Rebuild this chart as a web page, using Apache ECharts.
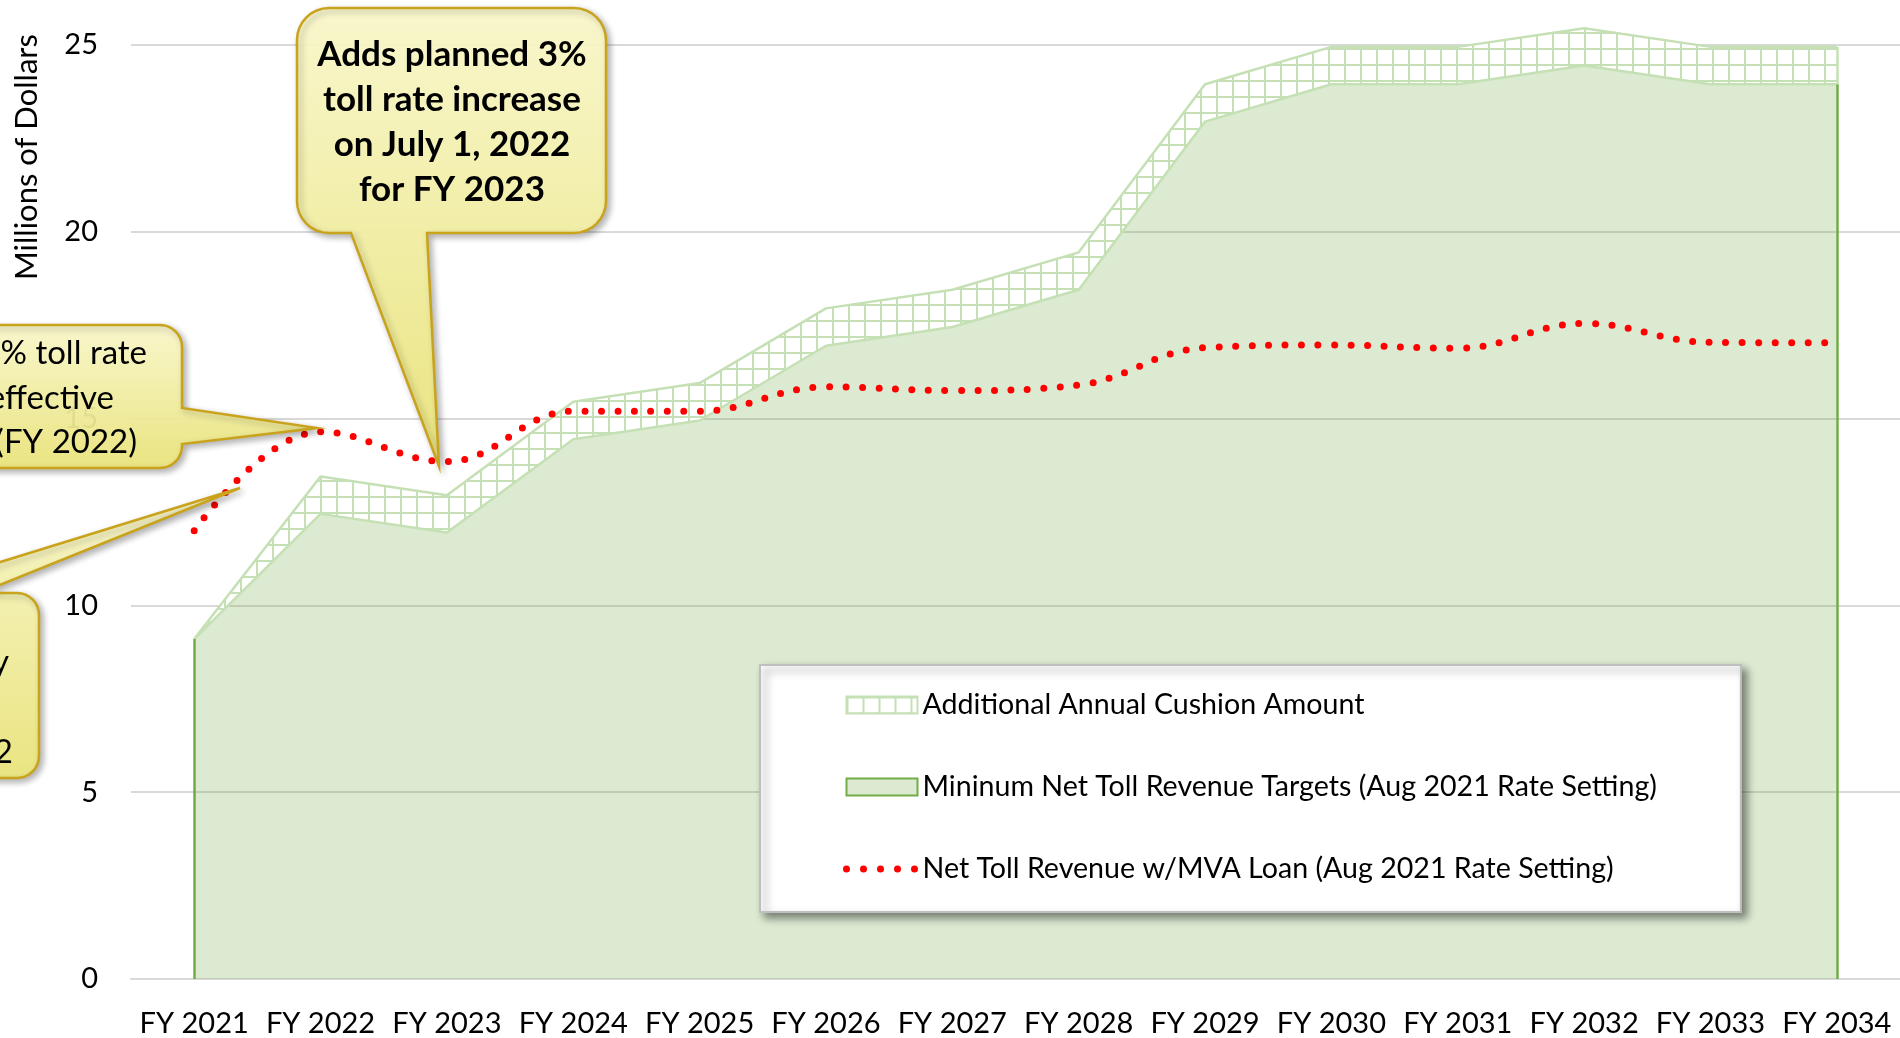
<!DOCTYPE html>
<html>
<head>
<meta charset="utf-8">
<script src="https://cdn.jsdelivr.net/npm/echarts@6/dist/echarts.min.js"></script>
<style>
  html, body { margin: 0; padding: 0; background: #fff; }
  #chart { width: 1900px; height: 1038px; }
</style>
</head>
<body>
<div id="chart"></div>
<script>
// fiscal years on the x axis
const years = ['FY 2021', 'FY 2022', 'FY 2023', 'FY 2024', 'FY 2025', 'FY 2026', 'FY 2027',
               'FY 2028', 'FY 2029', 'FY 2030', 'FY 2031', 'FY 2032', 'FY 2033', 'FY 2034'];

// millions of dollars
const minTargets = [9.1, 12.45, 11.95, 14.45, 14.95, 16.95, 17.45, 18.45, 22.95, 23.95, 23.95, 24.45, 23.95, 23.95];
const cushion    = [0, 1, 1, 1, 1, 1, 1, 1, 1, 1, 1, 1, 1, 1];
const netRevenue = [12.0, 14.65, 13.85, 15.2, 15.2, 15.85, 15.75, 15.9, 16.9, 16.97, 16.88, 17.55, 17.04, 17.03];

const yMin = 0, yMax = 25, yStep = 5;

const NAME_CUSHION = 'Additional Annual Cushion Amount';
const NAME_MIN = 'Mininum Net Toll Revenue Targets (Aug 2021 Rate Setting)';
const NAME_NET = 'Net Toll Revenue w/MVA Loan (Aug 2021 Rate Setting)';

const FONT = 'Lato';
const last = years.length - 1;

// grid hatch used for the cushion band
function gridPattern() {
  const c = document.createElement('canvas');
  c.width = 16; c.height = 16;
  const g = c.getContext('2d');
  g.fillStyle = '#ffffff';
  g.fillRect(0, 0, 16, 16);
  g.fillStyle = '#c5e0b4';
  g.fillRect(0, 0, 2, 16);
  g.fillRect(0, 0, 16, 2);
  return c;
}
const hatch = { image: gridPattern(), repeat: 'repeat' };

// rounded box with a pointer, as polygon points
function bubblePoints(x, y, w, h, r, edge, a, b, tx, ty) {
  const R = x + w, B = y + h;
  const pts = [];
  const arc = (cx, cy, from, to) => {
    for (let i = 0; i <= 8; i++) {
      const t = (from + (to - from) * i / 8) * Math.PI / 180;
      pts.push([cx + r * Math.cos(t), cy + r * Math.sin(t)]);
    }
  };
  arc(x + r, y + r, 180, 270);
  if (edge === 'top') pts.push([a, y], [tx, ty], [b, y]);
  arc(R - r, y + r, 270, 360);
  if (edge === 'right') pts.push([R, a], [tx, ty], [R, b]);
  arc(R - r, B - r, 0, 90);
  if (edge === 'bottom') pts.push([b, B], [tx, ty], [a, B]);
  arc(x + r, B - r, 90, 180);
  return pts;
}

function bubble(points) {
  return {
    type: 'polygon',
    z: 100,
    silent: true,
    shape: { points: points },
    style: {
      fill: new echarts.graphic.LinearGradient(0, 0, 0, 1, [
        { offset: 0, color: 'rgba(254,252,206,0.92)' },
        { offset: 1, color: 'rgba(238,232,124,0.92)' }
      ]),
      stroke: '#c9a31c',
      lineWidth: 2.5,
      shadowBlur: 6,
      shadowColor: 'rgba(0,0,0,0.3)',
      shadowOffsetX: 3,
      shadowOffsetY: 3
    }
  };
}

function label(text, x, y, opts) {
  return {
    type: 'text',
    z: 101,
    silent: true,
    x: x,
    y: y,
    style: Object.assign({
      text: text,
      fill: '#000',
      fontFamily: FONT,
      fontSize: 33,
      align: 'right',
      verticalAlign: 'middle'
    }, opts || {})
  };
}

const chart = echarts.init(document.getElementById('chart'));

chart.setOption({
  animation: false,
  backgroundColor: '#fff',
  grid: { left: 131, top: 45, width: 1771, bottom: 57, containLabel: false },
  xAxis: {
    type: 'category',
    data: years,
    boundaryGap: true,
    axisTick: { show: false },
    axisLine: { lineStyle: { color: '#d9d9d9', width: 2 } },
    axisLabel: { interval: 0, margin: 30, color: '#000', fontFamily: FONT, fontSize: 29 }
  },
  yAxis: {
    type: 'value',
    min: yMin,
    max: yMax,
    interval: yStep,
    axisLine: { show: false },
    axisTick: { show: false },
    splitLine: { lineStyle: { color: '#d9d9d9', width: 2 } },
    axisLabel: { margin: 33, color: '#000', fontFamily: FONT, fontSize: 29 }
  },
  legend: {
    orient: 'vertical',
    left: 760,
    top: 665,
    padding: [23, 84, 26, 83],
    itemGap: 48,
    itemWidth: 71,
    itemHeight: 17,
    backgroundColor: '#fff',
    borderColor: '#bfbfbf',
    borderWidth: 2,
    shadowBlur: 8,
    shadowColor: 'rgba(0,0,0,0.45)',
    shadowOffsetX: 5,
    shadowOffsetY: 5,
    selectedMode: false,
    textStyle: { color: '#000', fontFamily: FONT, fontSize: 28.6, lineHeight: 34 },
    data: [
      { name: NAME_CUSHION, icon: 'rect', itemStyle: { color: hatch, borderColor: '#c5e0b4', borderWidth: 2 } },
      { name: NAME_MIN, icon: 'rect', itemStyle: { color: 'rgba(112,173,71,0.25)', borderColor: '#70ad47', borderWidth: 2 } },
      { name: NAME_NET, itemStyle: { opacity: 0 }, lineStyle: { color: '#ff0000', width: 7, type: [0, 17], cap: 'round' } }
    ]
  },
  series: [
    {
      name: NAME_MIN,
      type: 'line',
      stack: 'targets',
      data: minTargets,
      symbol: 'none',
      silent: true,
      lineStyle: { color: '#c5e0b4', width: 2.5 },
      itemStyle: { color: '#70ad47' },
      areaStyle: { color: 'rgba(112,173,71,0.25)', opacity: 1 },
      markLine: {
        silent: true,
        symbol: 'none',
        label: { show: false },
        lineStyle: { color: '#70ad47', width: 2.5, type: 'solid' },
        data: [
          [{ coord: [years[0], 0] }, { coord: [years[0], minTargets[0]] }],
          [{ coord: [years[last], 0] }, { coord: [years[last], minTargets[last]] }]
        ]
      }
    },
    {
      name: NAME_CUSHION,
      type: 'line',
      stack: 'targets',
      data: cushion,
      symbol: 'none',
      silent: true,
      clip: false,
      lineStyle: { color: '#c5e0b4', width: 2.5 },
      itemStyle: { color: '#c5e0b4' },
      areaStyle: { color: hatch, opacity: 1 },
      markLine: {
        silent: true,
        symbol: 'none',
        label: { show: false },
        lineStyle: { color: '#c5e0b4', width: 2.5, type: 'solid' },
        data: [
          [{ coord: [years[last], minTargets[last]] }, { coord: [years[last], minTargets[last] + cushion[last]] }]
        ]
      }
    },
    {
      name: NAME_NET,
      type: 'line',
      data: netRevenue,
      smooth: 0.4,
      symbol: 'none',
      silent: true,
      z: 5,
      itemStyle: { color: '#ff0000' },
      lineStyle: { color: '#ff0000', width: 7, type: [0, 16.5], cap: 'round' }
    }
  ],
  graphic: [
    {
      type: 'text',
      z: 101,
      silent: true,
      x: 27,
      y: 157,
      rotation: Math.PI / 2,
      style: { text: 'Millions of Dollars', fill: '#000', fontFamily: FONT, fontSize: 31, align: 'center', verticalAlign: 'middle' }
    },
    // callout: planned 3% increase for FY 2023
    bubble(bubblePoints(297, 8, 309, 225, 32, 'bottom', 351, 427, 439, 466)),
    label('Adds planned 3%\ntoll rate increase\non July 1, 2022\nfor FY 2023', 452, 122,
          { align: 'center', fontWeight: 'bold', fontSize: 35, lineHeight: 45 }),
    // callout cut at the left edge (FY 2022)
    bubble(bubblePoints(-300, 325, 482, 143, 22, 'right', 408, 444, 317, 428)),
    label('% toll rate', 147, 353),
    label('effective', 114, 398),
    label('(FY 2022)', 137, 442),
    // lower callout cut at the left edge
    bubble(bubblePoints(-300, 593, 339, 185, 22, 'top', -100, -20, 240, 488)),
    label('y', 9, 662),
    label('2', 13, 752)
  ]
});
</script>
</body>
</html>
